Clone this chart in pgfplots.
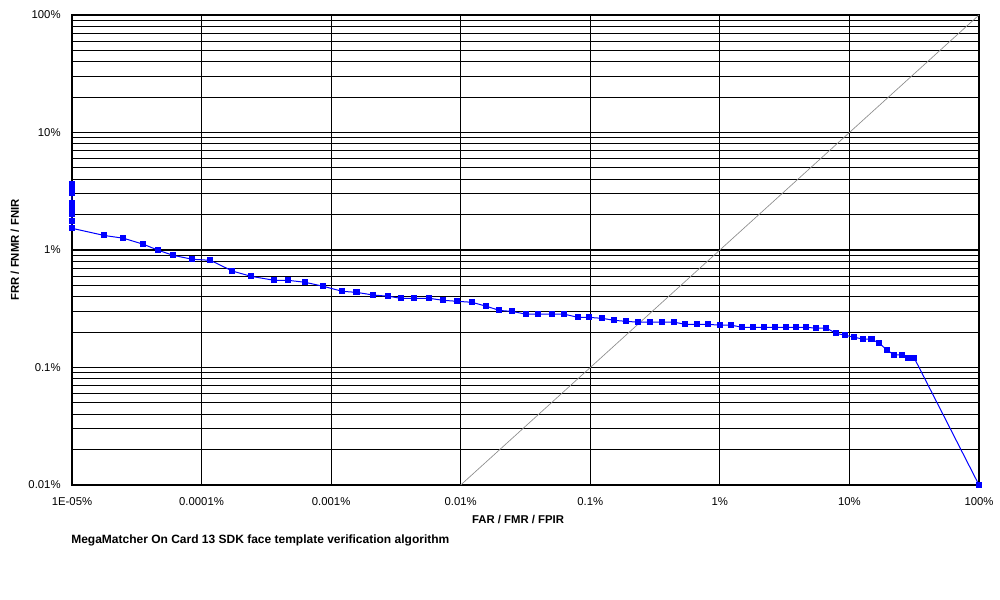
\documentclass[border=0pt]{standalone}
\usepackage{pgfplots}
\pgfplotsset{compat=1.18}
\usepackage{fontspec}
\setmainfont{Liberation Sans}

\definecolor{detblue}{RGB}{0,0,255}
\definecolor{diaggray}{RGB}{140,140,140}

\begin{document}
\begin{tikzpicture}[x=0.75pt,y=0.75pt]
	\path[use as bounding box] (0,0) rectangle (1000,600);
	\begin{axis}[
		at={(54pt,86.25pt)},
		anchor=south west,
		scale only axis,
		width=680.25pt,
		height=352.5pt,
		xmode=log,
		ymode=log,
		xmin=1e-5, xmax=100,
		ymin=0.01, ymax=100,
		xtick={1e-5,1e-4,1e-3,1e-2,1e-1,1,10,100},
		xticklabels={1E-05\%,0.0001\%,0.001\%,0.01\%,0.1\%,1\%,10\%,100\%},
		ytick={0.01,0.1,1,10,100},
		yticklabels={0.01\%,0.1\%,1\%,10\%,100\%},
		minor xtick={},
		minor ytick={0.02,0.03,0.04,0.05,0.06,0.07,0.08,0.09,
			0.2,0.3,0.4,0.5,0.6,0.7,0.8,0.9,
			2,3,4,5,6,7,8,9,
			20,30,40,50,60,70,80,90},
		xmajorgrids, ymajorgrids, yminorgrids,
		major grid style={black, line width=0.8pt},
		minor grid style={black, line width=0.8pt},
		axis line style={black, line width=0.8pt},
		major tick length=0pt,
		minor tick length=0pt,
		tick label style={font=\fontsize{8.5}{10}\selectfont},
		xticklabel style={yshift=-6pt},
		yticklabel style={xshift=-5pt},
		clip=false]

		% y = x reference line
		\addplot[color=diaggray, line width=0.5pt, mark=none] coordinates {
			(0.01,0.01) (100,100)
		};

		\addplot[color=detblue, line width=0.75pt, mark=square*, mark size=1.9pt,
			mark options={solid, fill=detblue}] coordinates {
			(1e-5,3.62) (1e-5,3.24) (1e-5,3.04) (1e-5,2.50) (1e-5,2.23)
			(1e-5,2.12) (1e-5,2.02) (1e-5,1.75) (1e-5,1.53)
			(1.77e-5,1.33) (2.49e-5,1.26) (3.55e-5,1.12) (4.64e-5,0.994)
			(6.05e-5,0.90) (8.5e-5,0.834) (1.17e-4,0.817) (1.73e-4,0.662)
			(2.41e-4,0.597) (3.64e-4,0.552) (4.66e-4,0.552) (6.3e-4,0.531)
			(8.7e-4,0.491) (1.22e-3,0.445) (1.57e-3,0.436) (2.11e-3,0.414)
			(2.76e-3,0.404) (3.46e-3,0.388) (4.38e-3,0.388) (5.72e-3,0.388)
			(7.35e-3,0.373) (9.4e-3,0.366) (0.0122,0.359) (0.0158,0.332)
			(0.0199,0.306) (0.025,0.300) (0.0321,0.284) (0.0397,0.284)
			(0.0509,0.284) (0.063,0.284) (0.081,0.267) (0.098,0.267)
			(0.124,0.262) (0.153,0.252) (0.190,0.247) (0.235,0.243)
			(0.290,0.243) (0.360,0.243) (0.445,0.243) (0.541,0.233)
			(0.670,0.233) (0.815,0.233) (1.01,0.229) (1.225,0.229)
			(1.49,0.220) (1.81,0.220) (2.20,0.220) (2.68,0.220)
			(3.26,0.220) (3.89,0.220) (4.65,0.220) (5.55,0.216)
			(6.64,0.216) (7.93,0.195) (9.30,0.188) (10.9,0.181)
			(12.8,0.174) (14.8,0.174) (17.0,0.161) (19.6,0.140)
			(22.2,0.128) (25.6,0.128) (28.5,0.120) (31.7,0.120)
			(100,0.01)
		};
	\end{axis}

	\node[font=\fontsize{8.5}{10}\selectfont\bfseries] at (518,80) {FAR / FMR / FPIR};
	\node[font=\fontsize{8.5}{10}\selectfont\bfseries, rotate=90] at (15,350) {FRR / FNMR / FNIR};
	\node[font=\fontsize{9}{11}\selectfont\bfseries, anchor=west, inner sep=0pt] at (71,60)
		{MegaMatcher On Card 13 SDK face template verification algorithm};
\end{tikzpicture}
\end{document}
